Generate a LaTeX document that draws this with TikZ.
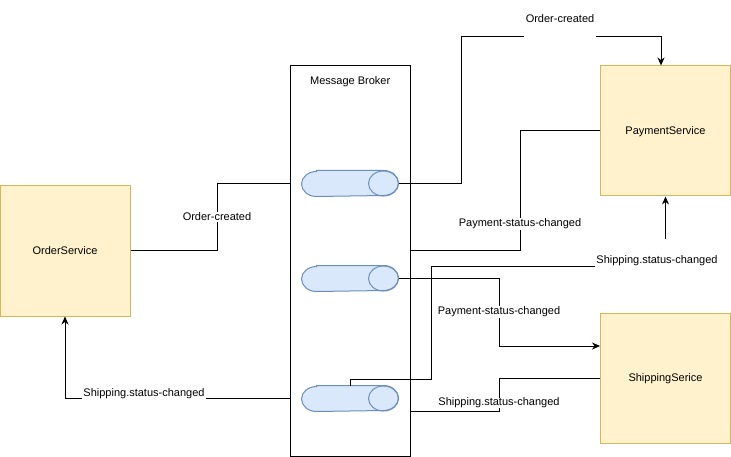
\documentclass[tikz,border=0pt]{standalone}
\usepackage{fontspec}
\setmainfont{Liberation Sans}
\usepackage{tikz}
\usetikzlibrary{arrows.meta}
\definecolor{svcfill}{HTML}{FFF2CC}
\definecolor{svcline}{HTML}{D6B656}
\definecolor{qfill}{HTML}{DAE8FC}
\definecolor{qline}{HTML}{6C8EBF}
\tikzstyle{arrow} = [->,>={Stealth[length=8pt,width=7pt]}]
\tikzstyle{service} = [draw=svcline,fill=svcfill,minimum width=130pt,minimum height=130pt,inner sep=0pt,text depth=0pt]
\tikzstyle{queue} = [minimum width=96pt,minimum height=25pt,inner sep=0pt]
\tikzstyle{lbl} = [fill=white,inner xsep=1pt,inner ysep=1pt]
\newcommand{\drawqueue}[1]{%
  \filldraw[draw=qline,fill=qfill] ([xshift=15pt]#1.north west) -- ([xshift=-15pt]#1.north east)
    arc[start angle=90,end angle=-90,x radius=15pt,y radius=12.5pt] -- ([xshift=15pt]#1.south west)
    arc[start angle=270,end angle=90,x radius=15pt,y radius=12.5pt] -- cycle;
  \draw[qline] ([xshift=-15pt]#1.east) ellipse [x radius=15pt,y radius=12.5pt];}

\begin{document}
\begin{tikzpicture}[x=1pt,y=-1pt,line width=1pt,font=\fontsize{11}{13}\selectfont]
\useasboundingbox (0,0) rectangle (731,457);
\node[service] (order) at (65,251) {OrderService};
\node[service] (payment) at (665.5,131) {PaymentService};
\node[service] (shipping) at (665.5,378) {ShippingSerice};
\node[draw,fill=white,minimum width=119.5pt,minimum height=390pt] (broker) at (350.25,261) {};
\node[anchor=north,yshift=-7pt] (title) at (broker.north) {Message Broker};
\node[queue] (q1) at (350,183.5) {};
\node[queue] (q2) at (350,278.5) {};
\node[queue] (q3) at (350,398.5) {};
\drawqueue{q1}
\drawqueue{q2}
\drawqueue{q3}

\draw (order.east) -- (217,251) |- (broker.west |- q1.west);
\draw[arrow] (q1.east) -| (461,37) -| ([xshift=-4.5pt]payment.north);
\draw (payment.west) -| (520,251) -- (broker.east |- 0,251);
\draw[arrow] (q3.north) |- (431,379) |- (payment.south |- 0,266) -- (payment.south);
\draw[arrow] (q2.east) -| (499,346) -- (shipping.west |- 0,346);
\draw (shipping.west) -| (499,411) -- (broker.east |- 0,411);
\draw[arrow] (broker.west |- q3.west) -| (order.south);

\node[lbl] (lo1) at (217,217) {Order-created};
\node[lbl,anchor=base,text height=10pt,text depth=16pt,inner sep=2pt] (lo2) at (560,23) {Order-created};
\node[lbl] (lp1) at (520,224) {Payment-status-changed};
\node[lbl,anchor=base,text height=24pt,text depth=6pt,inner sep=0pt,inner xsep=1pt] (ls1) at (657,263) {Shipping.status-changed};
\node[lbl] (lp2) at (499,312) {Payment-status-changed};
\node[lbl,inner ysep=0pt] (ls2) at (499,403) {Shipping.status-changed};
\node[lbl,anchor=base,text height=9pt,text depth=6pt,inner sep=0pt,inner xsep=1pt] (ls3) at (144,396) {Shipping.status-changed};
\end{tikzpicture}
\end{document}
